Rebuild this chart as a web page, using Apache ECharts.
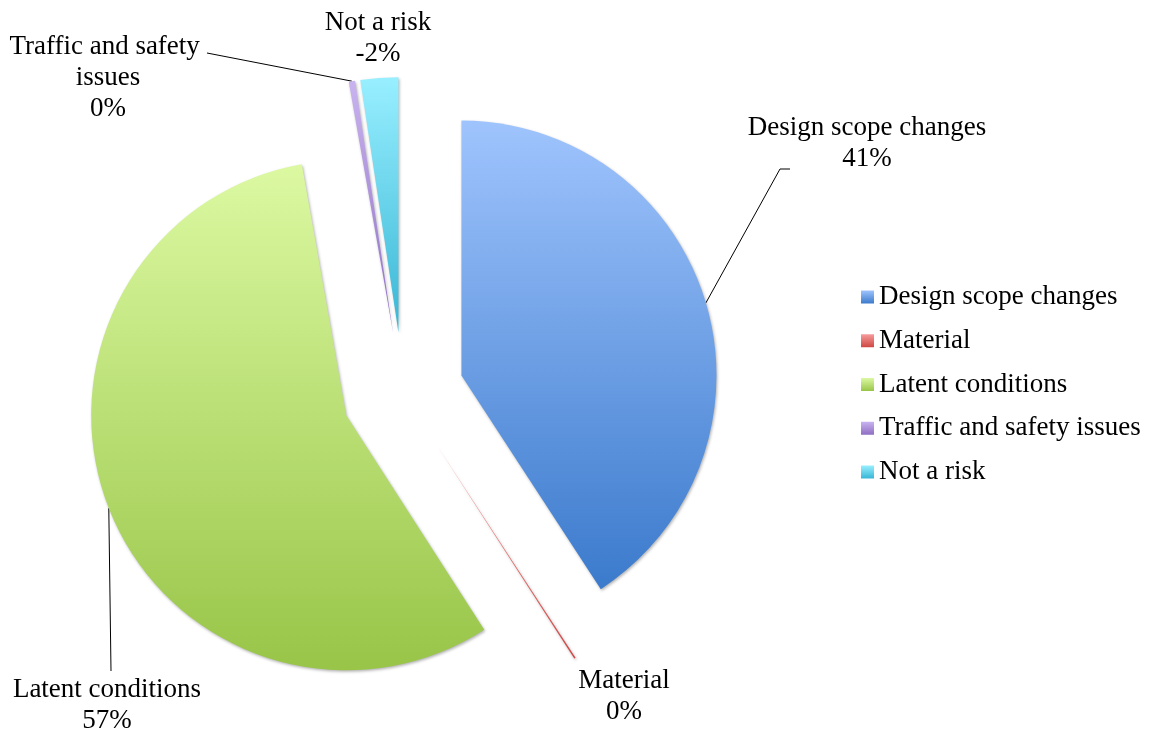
<!DOCTYPE html>
<html>
<head>
<meta charset="utf-8">
<script src="https://cdn.jsdelivr.net/npm/echarts@6/dist/echarts.min.js"></script>
<style>
  html, body { margin: 0; padding: 0; background: #ffffff; }
  #chart { width: 1152px; height: 731px; }
</style>
</head>
<body>
<div id="chart"></div>
<script>
// Risk categories and their share of the total, in percent.
// A slice is drawn from the magnitude of its share; the label shows the signed share.
const categories = ['Design scope changes', 'Material', 'Latent conditions', 'Traffic and safety issues', 'Not a risk'];
const shares = [41, 0.1, 56.6, 0.4, -2.4];

// Light-to-dark vertical gradient for each slice
const gradientStops = [
  ['#9fc4fd', '#3b7acc'],
  ['#f59c9b', '#cf4744'],
  ['#dcf9a2', '#98c548'],
  ['#c9b3ef', '#8e6ec3'],
  ['#98efff', '#38b6d5']
];

// Pie geometry (px)
const CENTER = [403, 393];
const RADIUS = 255;
const EXPLODE = 61;

const magnitudes = shares.map(Math.abs);
const total = magnitudes.reduce((a, b) => a + b, 0);

// Mid angle of every slice, measured clockwise from 12 o'clock
const midAngles = [];
(function () {
  let acc = 0;
  magnitudes.forEach(m => {
    midAngles.push((acc + m / 2) / total * Math.PI * 2);
    acc += m;
  });
})();

// Point on the outer arc of an exploded slice, at its mid angle
function explodedArcPoint(i) {
  const a = midAngles[i];
  const r = RADIUS + EXPLODE;
  return [CENTER[0] + r * Math.sin(a), CENTER[1] - r * Math.cos(a)];
}

// Where each data label sits (block centre) and where its leader line goes
const labelPlacement = [
  { x: 867, y: 143, line: [[780, 169], [790, 169]] },
  { x: 624, y: 696, line: null },
  { x: 107, y: 705, line: [[111, 671]] },
  { x: 108, y: 78, line: [[207, 53]] },
  { x: 378, y: 38, line: null }
];

const FONT = 'Liberation Serif, "Times New Roman", serif';

const chart = echarts.init(document.getElementById('chart'), null, { renderer: 'canvas' });

function gradient(i) {
  return new echarts.graphic.LinearGradient(0, 0, 0, 1, [
    { offset: 0, color: gradientStops[i][0] },
    { offset: 1, color: gradientStops[i][1] }
  ]);
}

// Exploded slices
const sliceData = categories.map((name, i) => ({
  name: name,
  value: magnitudes[i],
  selected: true,
  itemStyle: { color: gradient(i) }
}));

// Same slices, unfilled, carrying the data labels and leader lines
const labelData = categories.map((name, i) => ({
  name: name,
  value: magnitudes[i],
  share: shares[i],
  labelLine: { show: labelPlacement[i].line !== null }
}));

chart.setOption({
  animation: false,
  backgroundColor: '#ffffff',
  legend: {
    orient: 'vertical',
    left: 856,
    top: 277,
    itemWidth: 13,
    itemHeight: 13,
    itemGap: 13.75,
    icon: 'rect',
    selectedMode: false,
    data: categories,
    itemStyle: { shadowBlur: 0, shadowOffsetX: 0, shadowOffsetY: 0, borderWidth: 0 },
    textStyle: { color: '#000000', fontFamily: FONT, fontSize: 27, lineHeight: 30 }
  },
  series: [{
    type: 'pie',
    name: 'slices',
    center: CENTER,
    radius: [0, RADIUS],
    startAngle: 90,
    clockwise: true,
    selectedMode: 'multiple',
    selectedOffset: EXPLODE,
    avoidLabelOverlap: false,
    silent: true,
    itemStyle: {
      borderWidth: 0,
      shadowBlur: 3,
      shadowOffsetX: 1,
      shadowOffsetY: 1.5,
      shadowColor: 'rgba(0,0,0,0.3)'
    },
    label: { show: false },
    labelLine: { show: false },
    data: sliceData
  }, {
    type: 'pie',
    name: 'labels',
    center: CENTER,
    radius: [0, RADIUS],
    startAngle: 90,
    clockwise: true,
    avoidLabelOverlap: false,
    silent: true,
    itemStyle: { color: 'rgba(0,0,0,0)', borderWidth: 0 },
    label: {
      show: true,
      position: 'outside',
      color: '#000000',
      fontFamily: FONT,
      fontSize: 27,
      lineHeight: 31,
      width: 250,
      overflow: 'break',
      align: 'center',
      formatter: p => p.name + '\n' + Math.round(p.data.share) + '%'
    },
    labelLine: {
      show: true,
      length: 10,
      length2: 10,
      lineStyle: { color: '#000000', width: 1 }
    },
    labelLayout: function (p) {
      const i = p.dataIndex;
      const pl = labelPlacement[i];
      const out = { x: pl.x, y: pl.y, align: 'center', verticalAlign: 'middle' };
      if (pl.line) {
        out.labelLinePoints = [explodedArcPoint(i)].concat(pl.line);
      }
      return out;
    },
    data: labelData
  }]
});
</script>
</body>
</html>
